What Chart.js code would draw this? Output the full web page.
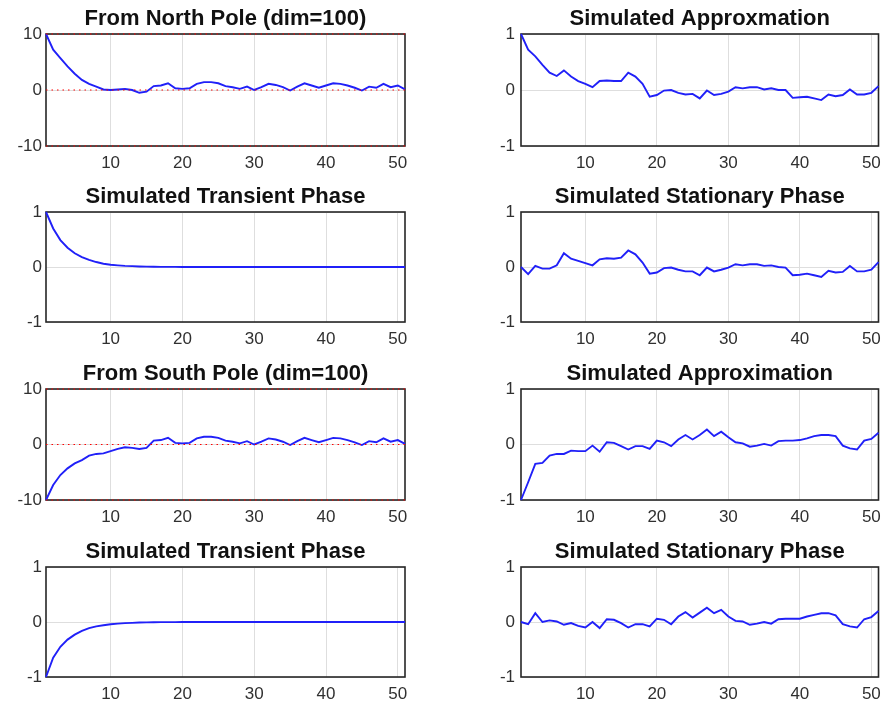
<!DOCTYPE html>
<html>
<head>
<meta charset="utf-8">
<title>Simulated phases</title>
<script src="https://cdn.jsdelivr.net/npm/chart.js@4.4.1/dist/chart.umd.min.js"></script>
<style>
    body { margin: 0; background: #fff; }
    #page { position: relative; width: 888px; height: 711px; }
    .panel { position: absolute; }
</style>
</head>
<body>
<div id="page"></div>
<script>
const steps = Array.from({ length: 51 }, (_, i) => i + 1);
const xTicks = [10, 20, 30, 40, 50];
const poleTicks = [-10, 0, 10];
const unitTicks = [-1, 0, 1];
const refLevels = [-10, 0, 10];

const northPole = [10, 7.2, 5.7, 4.2, 2.9, 1.8, 1.1, 0.6, 0.1, 0, 0.1, 0.2, 0, -0.5, -0.3, 0.7, 0.8, 1.2, 0.3, 0.2,
    0.3, 1.1, 1.4, 1.4, 1.2, 0.7, 0.5, 0.2, 0.6, 0, 0.5, 1.1, 0.9, 0.5, -0.1, 0.6, 1.2, 0.8, 0.4, 0.8,
    1.2, 1.1, 0.8, 0.4, -0.1, 0.6, 0.4, 1.1, 0.5, 0.8, 0.1];
const northApprox = [1.0, 0.72, 0.6, 0.45, 0.31, 0.25, 0.35, 0.24, 0.16, 0.11, 0.05, 0.16, 0.17, 0.16, 0.16, 0.31, 0.24, 0.11, -0.12, -0.09,
    -0.01, 0, -0.05, -0.08, -0.07, -0.15, -0.01, -0.09, -0.07, -0.03, 0.05, 0.03, 0.05, 0.05, 0.01, 0.03, 0, 0, -0.14, -0.13,
    -0.12, -0.15, -0.18, -0.08, -0.11, -0.09, 0.01, -0.08, -0.08, -0.05, 0.07];
const northTransient = [1, 0.7, 0.49, 0.35, 0.25, 0.18, 0.13, 0.09, 0.06, 0.04, 0.03, 0.02, 0.015, 0.01, 0.007, 0.005, 0.003, 0.002, 0.002, 0.001,
    0.001, 0, 0, 0, 0, 0, 0, 0, 0, 0, 0, 0, 0, 0, 0, 0, 0, 0, 0, 0,
    0, 0, 0, 0, 0, 0, 0, 0, 0, 0, 0];
const northStationary = [0, -0.13, 0.02, -0.03, -0.03, 0.03, 0.25, 0.15, 0.11, 0.07, 0.03, 0.14, 0.16, 0.15, 0.17, 0.3, 0.23, 0.08, -0.12, -0.1,
    -0.02, -0.01, -0.05, -0.08, -0.08, -0.15, -0.01, -0.08, -0.05, -0.01, 0.05, 0.03, 0.05, 0.05, 0.02, 0.03, 0, -0.01, -0.15, -0.14,
    -0.12, -0.15, -0.18, -0.07, -0.1, -0.09, 0.02, -0.08, -0.08, -0.05, 0.09];

const southPole = [-10, -7.3, -5.5, -4.3, -3.4, -2.8, -2.0, -1.7, -1.6, -1.2, -0.8, -0.5, -0.6, -0.8, -0.6, 0.7, 0.8, 1.2, 0.3, 0.2,
    0.3, 1.1, 1.4, 1.4, 1.2, 0.7, 0.5, 0.2, 0.6, 0, 0.5, 1.1, 0.9, 0.5, -0.1, 0.6, 1.2, 0.8, 0.4, 0.8,
    1.2, 1.1, 0.8, 0.4, -0.1, 0.6, 0.4, 1.1, 0.5, 0.8, 0.1];
const southApprox = [-1, -0.68, -0.35, -0.33, -0.2, -0.17, -0.17, -0.11, -0.12, -0.12, -0.02, -0.13, 0.04, 0.03, -0.03, -0.09, -0.03, -0.03, -0.08, 0.07,
    0.04, -0.03, 0.09, 0.17, 0.09, 0.17, 0.27, 0.15, 0.23, 0.13, 0.04, 0.02, -0.04, -0.02, 0.01, -0.02, 0.06, 0.07, 0.07, 0.08,
    0.11, 0.15, 0.17, 0.17, 0.15, -0.02, -0.07, -0.09, 0.07, 0.1, 0.21];
const southTransient = [-1, -0.65, -0.45, -0.32, -0.23, -0.16, -0.11, -0.08, -0.06, -0.04, -0.03, -0.02, -0.015, -0.01, -0.007, -0.005, -0.003, -0.002, -0.002, -0.001,
    -0.001, 0, 0, 0, 0, 0, 0, 0, 0, 0, 0, 0, 0, 0, 0, 0, 0, 0, 0, 0,
    0, 0, 0, 0, 0, 0, 0, 0, 0, 0, 0];
const southStationary = [0, -0.04, 0.16, 0, 0.03, 0.01, -0.05, -0.02, -0.07, -0.1, 0, -0.11, 0.05, 0.04, -0.02, -0.1, -0.04, -0.04, -0.08, 0.06,
    0.04, -0.04, 0.1, 0.18, 0.08, 0.17, 0.26, 0.16, 0.22, 0.1, 0.02, 0.01, -0.05, -0.03, 0, -0.03, 0.05, 0.06, 0.06, 0.06,
    0.1, 0.13, 0.16, 0.16, 0.12, -0.04, -0.08, -0.1, 0.05, 0.09, 0.2];

const panels = [
    { title: 'From North Pole (dim=100)', data: northPole, ticks: poleTicks, refs: true },
    { title: 'Simulated Approxmation', data: northApprox, ticks: unitTicks },
    { title: 'Simulated Transient Phase', data: northTransient, ticks: unitTicks },
    { title: 'Simulated Stationary Phase', data: northStationary, ticks: unitTicks },
    { title: 'From South Pole (dim=100)', data: southPole, ticks: poleTicks, refs: true },
    { title: 'Simulated Approximation', data: southApprox, ticks: unitTicks },
    { title: 'Simulated Transient Phase', data: southTransient, ticks: unitTicks },
    { title: 'Simulated Stationary Phase', data: southStationary, ticks: unitTicks }
];

// plot box edges in page pixels
const rowBoxes = [[34, 146], [212, 322], [389, 500], [567, 677]];
const colBoxes = [[46, 405], [521, 880]];
const colLeft = [0, 444];
const colWidth = 444;
const TITLE_H = 34;
const XAXIS_H = 32;

const FONT = "'Liberation Sans', Arial, Helvetica, sans-serif";

const boxPlugin = {
    id: 'axesBox',
    beforeDatasetsDraw(chart) {
        const a = chart.chartArea;
        const ctx = chart.ctx;
        ctx.save();
        ctx.strokeStyle = '#262626';
        ctx.lineWidth = 1.6;
        ctx.strokeRect(a.left, a.top, a.right - a.left, a.bottom - a.top);
        ctx.restore();
    }
};

function makePanel(panel, index) {
    const row = Math.floor(index / 2);
    const col = index % 2;
    const [boxTop, boxBottom] = rowBoxes[row];
    const [boxLeft, boxRight] = colBoxes[col];
    const height = (boxBottom - boxTop) + TITLE_H + XAXIS_H;

    const div = document.createElement('div');
    div.className = 'panel';
    div.style.left = colLeft[col] + 'px';
    div.style.top = (boxTop - TITLE_H) + 'px';
    const canvas = document.createElement('canvas');
    canvas.width = colWidth;
    canvas.height = height;
    div.appendChild(canvas);
    document.getElementById('page').appendChild(div);

    const yMin = panel.ticks[0];
    const yMax = panel.ticks[panel.ticks.length - 1];

    const datasets = [];
    if (panel.refs) {
        refLevels.forEach(level => {
            datasets.push({
                data: [{ x: steps[0], y: level }, { x: steps[steps.length - 1], y: level }],
                borderColor: '#ff0000',
                borderWidth: 1.2,
                borderDash: [1.5, 4],
                pointRadius: 0,
                clip: false
            });
        });
    }
    datasets.push({
        data: steps.map((s, i) => ({ x: s, y: panel.data[i] })),
        borderColor: '#2020f8',
        borderWidth: 1.9,
        pointRadius: 0,
        tension: 0,
        clip: 2
    });

    new Chart(canvas.getContext('2d'), {
        type: 'line',
        data: { datasets: datasets },
        options: {
            responsive: false,
            animation: false,
            devicePixelRatio: 1,
            layout: {
                padding: { left: 0, right: colLeft[col] + colWidth - boxRight, top: 0, bottom: 0 }
            },
            scales: {
                x: {
                    type: 'linear',
                    min: steps[0],
                    max: steps[steps.length - 1],
                    afterBuildTicks: scale => { scale.ticks = xTicks.map(v => ({ value: v })); },
                    afterFit: scale => { scale.height = XAXIS_H; },
                    grid: { color: '#dedede', lineWidth: 1, drawTicks: false },
                    border: { display: false },
                    ticks: {
                        color: '#303030',
                        padding: 7,
                        maxRotation: 0,
                        font: { family: FONT, size: 17 }
                    }
                },
                y: {
                    type: 'linear',
                    min: yMin,
                    max: yMax,
                    afterBuildTicks: scale => { scale.ticks = panel.ticks.map(v => ({ value: v })); },
                    afterFit: scale => { scale.width = boxLeft - colLeft[col]; },
                    grid: { color: '#dedede', lineWidth: 1, drawTicks: false },
                    border: { display: false },
                    ticks: {
                        color: '#303030',
                        padding: col === 0 ? 4 : 6,
                        font: { family: FONT, size: 17 }
                    }
                }
            },
            plugins: {
                legend: { display: false },
                tooltip: { enabled: false },
                title: {
                    display: true,
                    fullSize: false,
                    text: panel.title,
                    color: '#111111',
                    padding: { top: 8, bottom: 4 },
                    font: { family: FONT, size: 22, weight: 'bold', lineHeight: 1 }
                }
            }
        },
        plugins: [boxPlugin]
    });
}

panels.forEach(makePanel);
</script>
</body>
</html>
